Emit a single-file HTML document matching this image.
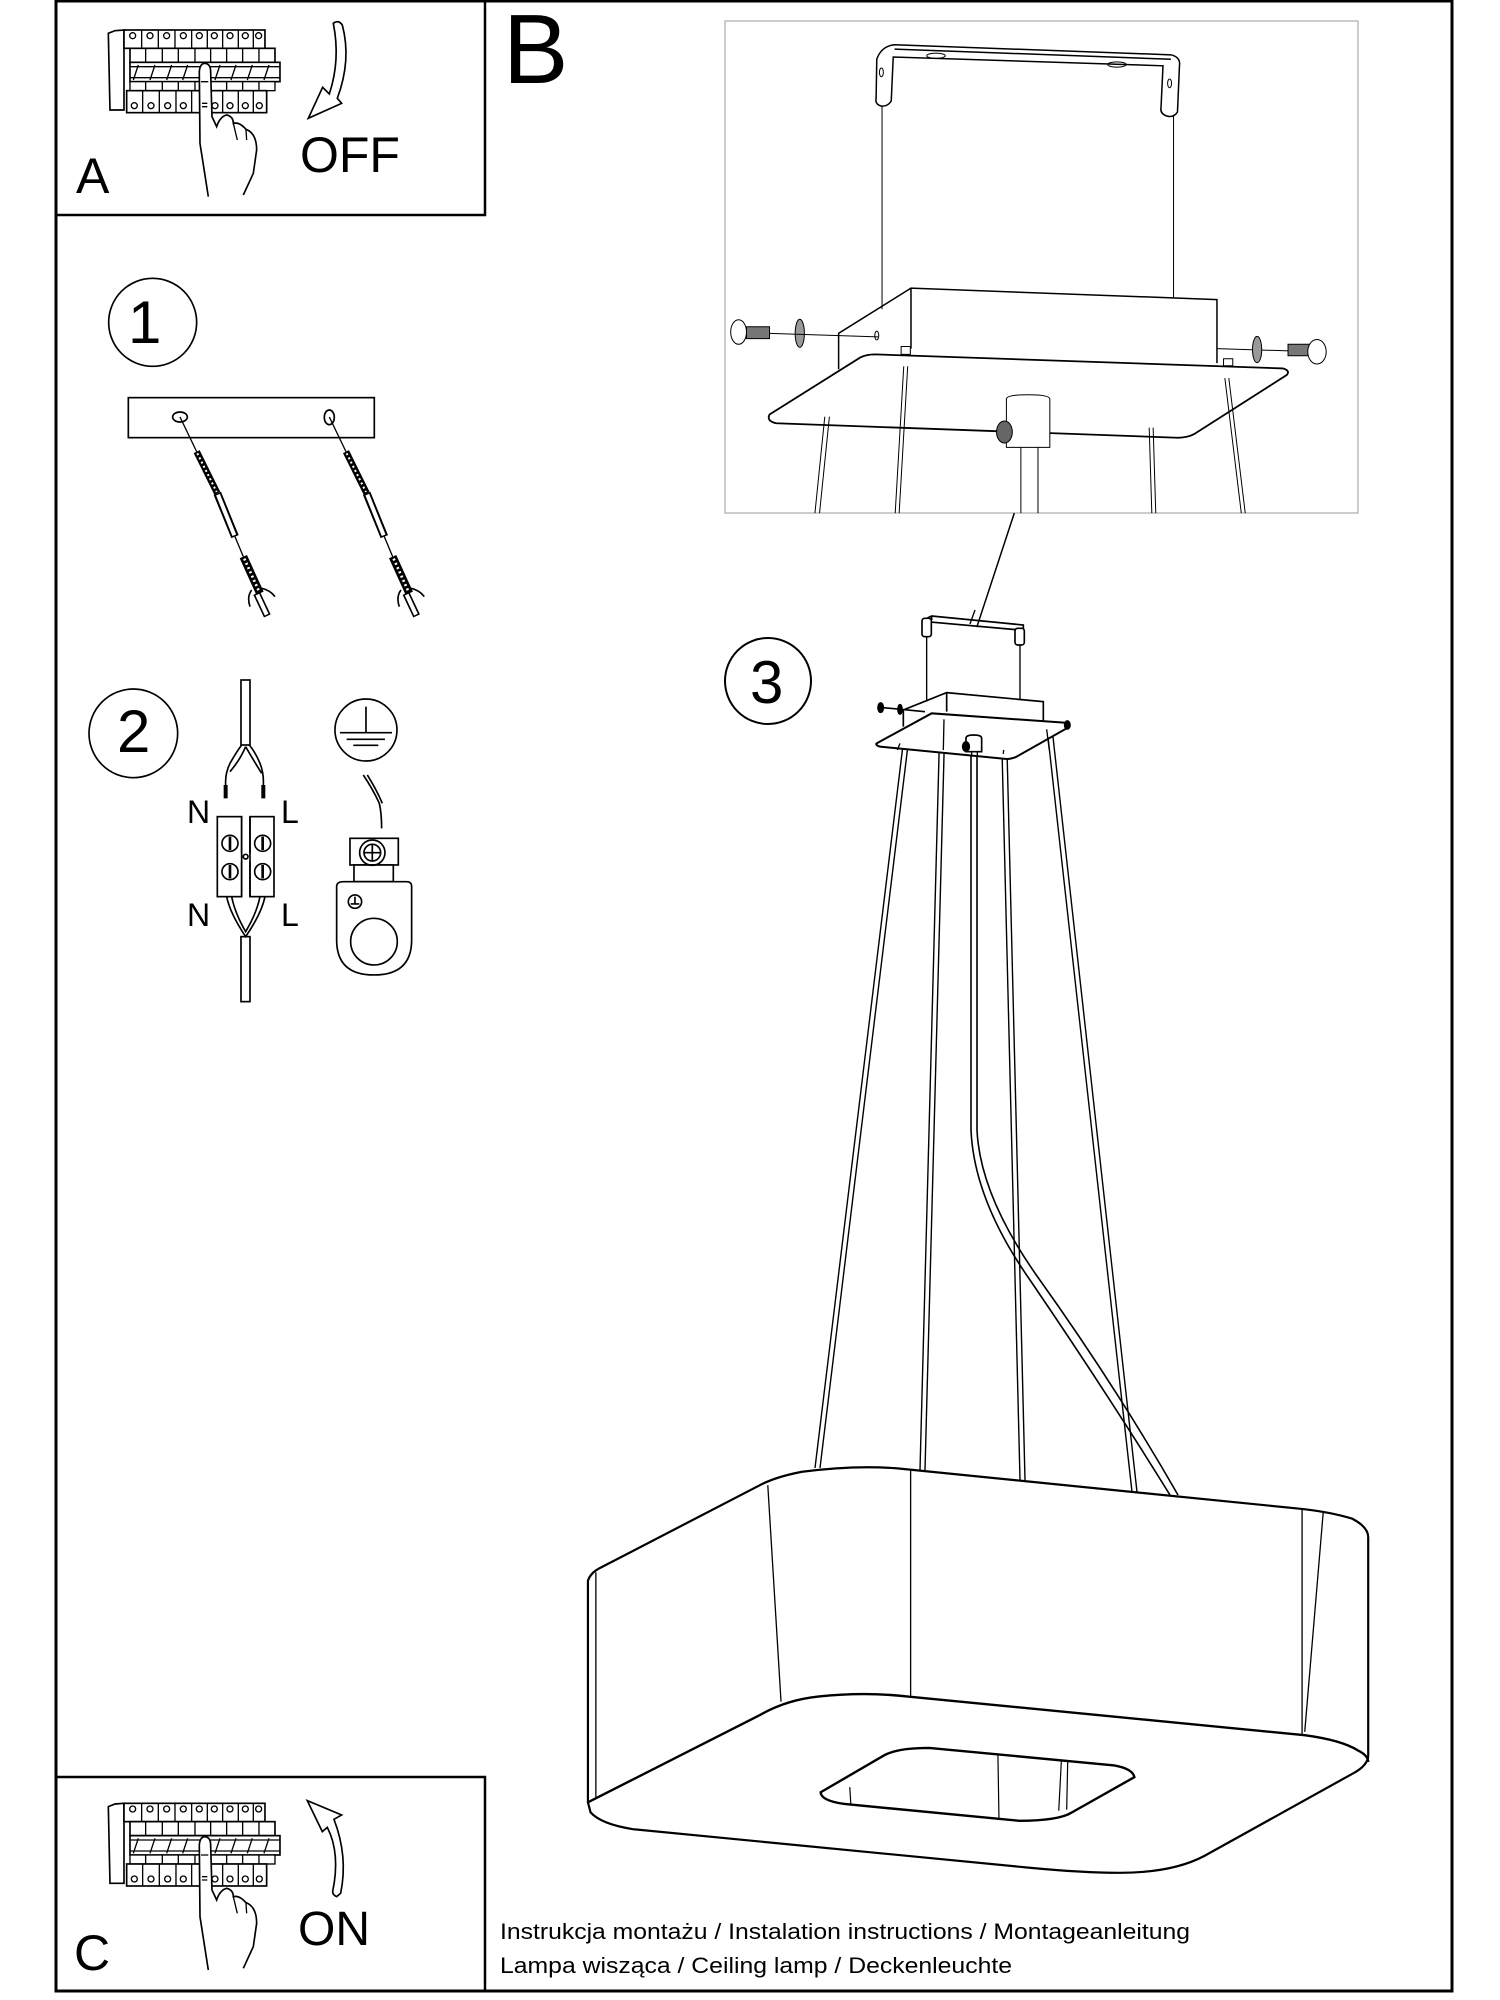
<!DOCTYPE html>
<html><head><meta charset="utf-8"><style>
html,body{margin:0;padding:0;background:#fff}
svg{display:block}
text{font-family:"Liberation Sans",sans-serif;fill:#000}
</style></head><body>
<svg width="1500" height="2000" viewBox="0 0 1500 2000" xmlns="http://www.w3.org/2000/svg">
<defs>
<g id="breaker">
 <path d="M325,100 L345,92 L372,90 L372,330 L330,330 Z" fill="#fff" stroke="#000" stroke-width="5"/>
 <rect x="372" y="90" width="423" height="55" fill="#fff" stroke="#000" stroke-width="5"/>
 <g stroke="#000" stroke-width="4" fill="none">
  <path d="M425,90V145M475,90V145M525,90V145M575,90V145M622,90V145M668,90V145M715,90V145M760,90V145"/>
  <circle cx="398" cy="107" r="9"/><circle cx="450" cy="107" r="9"/><circle cx="500" cy="107" r="9"/><circle cx="550" cy="107" r="9"/><circle cx="598" cy="107" r="9"/><circle cx="643" cy="107" r="9"/><circle cx="690" cy="107" r="9"/><circle cx="736" cy="107" r="9"/><circle cx="776" cy="107" r="9"/>
 </g>
 <rect x="390" y="145" width="435" height="42" fill="#fff" stroke="#000" stroke-width="5"/>
 <path d="M437,145V187M487,145V187M535,145V187M585,145V187M632,145V187M680,145V187M728,145V187M777,145V187" stroke="#000" stroke-width="4"/>
 <rect x="390" y="187" width="450" height="58" fill="#fff" stroke="#000" stroke-width="5"/>
 <path d="M390,200H840M390,233H840M400,240L415,195M450,240L465,195M500,240L515,195M548,240L563,195M645,240L660,195M693,240L708,195M742,240L757,195M792,240L807,195" stroke="#000" stroke-width="4"/>
 <rect x="390" y="245" width="435" height="27" fill="#fff" stroke="#000" stroke-width="4"/>
 <path d="M437,245V272M487,245V272M535,245V272M585,245V272M632,245V272M680,245V272M728,245V272M777,245V272" stroke="#000" stroke-width="4"/>
 <rect x="380" y="272" width="420" height="66" fill="#fff" stroke="#000" stroke-width="5"/>
 <g stroke="#000" stroke-width="4" fill="none">
  <path d="M428,272V338M478,272V338M528,272V338M575,272V338M625,272V338M668,272V338M715,272V338M760,272V338"/>
  <circle cx="403" cy="317" r="9"/><circle cx="453" cy="317" r="9"/><circle cx="503" cy="317" r="9"/><circle cx="550" cy="317" r="9"/><circle cx="645" cy="317" r="9"/><circle cx="690" cy="317" r="9"/><circle cx="736" cy="317" r="9"/><circle cx="778" cy="317" r="9"/>
 </g>
 <path d="M625,590 L600,430 L598,215 Q600,190 615,190 Q632,192 632,215 L636,350 L650,380 Q660,350 680,345 Q700,350 700,370 Q718,365 738,388 Q770,400 770,450 L760,520 L730,585" fill="#fff" stroke="#000" stroke-width="5"/>
 <path d="M603,245H625M606,310H622M606,320H622M700,370 L712,420M738,388 L740,420" stroke="#000" stroke-width="4" fill="none"/>
</g>
</defs>

<rect x="56" y="1" width="1396" height="1990" fill="none" stroke="#000" stroke-width="3"/>
<rect x="56" y="1" width="429" height="214" fill="none" stroke="#000" stroke-width="2.5"/>
<rect x="56" y="1777" width="429" height="214" fill="none" stroke="#000" stroke-width="2.5"/>

<g transform="scale(0.3333)"><use href="#breaker"/>
 <path d="M1000,70 Q1015,58 1027,75 Q1055,180 1012,295 L1025,310 L925,355 L968,262 L988,282 Q1022,180 1000,70 Z" fill="#fff" stroke="#000" stroke-width="5"/></g>
<text x="300" y="172" font-size="50">OFF</text>
<text x="76" y="193" font-size="50">A</text>

<g transform="translate(0,1760) scale(0.3333) translate(0,40)"><use href="#breaker"/></g>
<g transform="translate(0,1760) scale(0.3333)">
 <path d="M1010,410 Q998,405 998,395 Q1022,280 982,202 L967,215 L922,122 L1025,165 L1002,178 Q1045,290 1022,400 Z" fill="#fff" stroke="#000" stroke-width="5"/></g>
<text x="298" y="1945" font-size="48">ON</text>
<text x="74" y="1970" font-size="50">C</text>

<text x="500" y="1939" font-size="22" textLength="690" lengthAdjust="spacingAndGlyphs">Instrukcja montażu / Instalation instructions / Montageanleitung</text>
<text x="500" y="1973" font-size="22" textLength="512" lengthAdjust="spacingAndGlyphs">Lampa wisząca / Ceiling lamp / Deckenleuchte</text>

<text x="503" y="83" font-size="98">B</text>

<g transform="translate(80,260) scale(0.3333)" stroke="#000" fill="none">
 <circle cx="218" cy="187" r="132" stroke-width="5"/>
 <rect x="145" y="413" width="738" height="120" stroke-width="5" fill="#fff"/>
 <ellipse cx="300" cy="471" rx="22" ry="15" stroke-width="5"/>
 <ellipse cx="748" cy="472" rx="15" ry="22" stroke-width="5"/>
 <g id="anc">
  <path d="M300,471 L350,575" stroke-width="4"/>
  <path d="M350,575 L412,700" stroke-width="20"/><path d="M352,580 L410,696" stroke="#fff" stroke-width="6" stroke-dasharray="6 8"/>
  <path d="M412,700 L465,830" stroke-width="24"/><path d="M414,704 L463,826" stroke="#fff" stroke-width="12"/>
  <path d="M465,830 L490,890" stroke-width="4"/>
  <path d="M490,890 L540,1000" stroke-width="24"/><path d="M493,896 L537,994" stroke="#fff" stroke-width="8" stroke-dasharray="6 8"/>
  <path d="M530,1000 L562,1068" stroke-width="22"/><path d="M532,1004 L560,1064" stroke="#fff" stroke-width="12"/>
  <path d="M515,990 Q500,1010 510,1040 M545,985 Q570,990 585,1010" stroke-width="5"/>
 </g>
 <use href="#anc" transform="translate(448,0)"/>
</g>
<text x="128" y="343" font-size="60">1</text>

<g transform="translate(80,680) scale(0.3333)" stroke="#000" fill="none" stroke-width="5">
 <circle cx="160" cy="160" r="133"/>
 <rect x="483" y="0" width="27" height="195"/>
 <path d="M485,195 Q470,215 450,250 Q435,280 437,315 M508,195 Q525,215 540,250 Q552,280 550,315 M497,200 Q480,240 450,275 M497,200 Q520,240 545,280"/>
 <path d="M437,315V355M550,315V355" stroke-width="12"/>
 <rect x="412" y="410" width="73" height="240" fill="#fff"/>
 <rect x="510" y="410" width="72" height="240" fill="#fff"/>
 <path d="M485,410V520M510,410V520M485,545V650M510,545V650"/>
 <circle cx="497" cy="530" r="7"/>
 <circle cx="450" cy="490" r="24"/><circle cx="548" cy="490" r="24"/><circle cx="450" cy="575" r="24"/><circle cx="548" cy="575" r="24"/>
 <path d="M450,470V510M548,470V510M450,555V595M548,555V595" stroke-width="8"/>
 <path d="M440,650 Q450,700 497,770 Q545,700 555,650 M455,650 Q465,700 497,755 Q530,700 540,650"/>
 <rect x="483" y="770" width="27" height="195"/>
 <circle cx="858" cy="150" r="93"/>
 <path d="M858,80V158M780,158H936M800,178H915M820,196H895"/>
 <path d="M850,285 Q880,330 898,370 Q905,400 905,445 M862,285 Q890,330 907,370"/>
 <rect x="810" y="475" width="145" height="80" fill="#fff"/>
 <rect x="822" y="555" width="118" height="50" fill="#fff"/>
 <circle cx="877" cy="518" r="38"/><circle cx="877" cy="518" r="25"/>
 <path d="M877,493V543M852,518H902"/>
 <path d="M770,620 Q770,605 790,605 L980,605 Q995,605 995,620 L995,780 Q995,885 882,885 Q770,885 770,780 Z" fill="#fff"/>
 <circle cx="882" cy="785" r="70"/>
 <circle cx="825" cy="665" r="20"/><path d="M825,650V670M812,672H838"/>
</g>
<text x="117" y="752" font-size="60">2</text>
<text x="187" y="823" font-size="32">N</text>
<text x="281" y="823" font-size="32">L</text>
<text x="187" y="926" font-size="32">N</text>
<text x="281" y="926" font-size="32">L</text>

<rect x="725" y="21" width="633" height="492" fill="none" stroke="#bbb" stroke-width="1.5"/>
<g transform="translate(480,0) scale(0.658,0.4386)" stroke="#000" fill="none">
 <path vector-effect="non-scaling-stroke" stroke-width="1.5" d="M603,135 Q610,105 630,102 L1050,125 Q1065,130 1063,150 L1060,255 Q1055,268 1045,265 Q1033,260 1035,245 L1038,150 L628,130 L625,230 Q620,243 610,242 Q600,238 602,225 Z M630,112 L1050,135"/>
 <ellipse vector-effect="non-scaling-stroke" cx="693" cy="127" rx="14" ry="6"/><ellipse vector-effect="non-scaling-stroke" cx="968" cy="147" rx="14" ry="6"/>
 <ellipse vector-effect="non-scaling-stroke" cx="610" cy="165" rx="3" ry="10"/><ellipse vector-effect="non-scaling-stroke" cx="1048" cy="190" rx="3" ry="10"/>
 <path vector-effect="non-scaling-stroke" stroke-width="1" d="M611,242V705M1054,262V680"/>
 <path vector-effect="non-scaling-stroke" stroke-width="1.5" d="M545,842 V760 L655,657 L1120,683 V828 M655,657 V795"/>
 <ellipse vector-effect="non-scaling-stroke" cx="603" cy="765" rx="3" ry="10"/>
 <rect vector-effect="non-scaling-stroke" x="640" y="790" width="14" height="18"/><rect vector-effect="non-scaling-stroke" x="1130" y="818" width="14" height="16"/>
 <path vector-effect="non-scaling-stroke" stroke-width="1.8" fill="#fff" d="M440,945 L578,815 Q588,808 600,808 L1220,840 Q1232,845 1226,855 L1085,990 Q1075,998 1060,998 L450,965 Q435,960 440,945 Z"/>
 <path vector-effect="non-scaling-stroke" d="M524,950 L509,1170 M531,950 L516,1170 M644,835 L631,1170 M650,835 L637,1170 M1017,975 L1021,1170 M1023,975 L1027,1170 M1132,862 L1157,1170 M1138,862 L1163,1170"/>
 <path vector-effect="non-scaling-stroke" fill="#fff" d="M800,1020 V910 Q800,900 833,900 Q866,900 866,910 V1020 Z"/>
 <ellipse vector-effect="non-scaling-stroke" cx="797" cy="985" rx="12" ry="25" fill="#666"/>
 <path vector-effect="non-scaling-stroke" d="M822,1020V1170M848,1020V1170"/>
 <ellipse vector-effect="non-scaling-stroke" cx="393" cy="757" rx="12" ry="28" fill="#fff"/>
 <rect vector-effect="non-scaling-stroke" x="405" y="745" width="35" height="27" fill="#777"/>
 <ellipse vector-effect="non-scaling-stroke" cx="486" cy="760" rx="7" ry="32" fill="#999"/>
 <path vector-effect="non-scaling-stroke" stroke-width="1" d="M440,760 L605,768 M1120,795 L1230,800"/>
 <ellipse vector-effect="non-scaling-stroke" cx="1181" cy="797" rx="7" ry="30" fill="#999"/>
 <rect vector-effect="non-scaling-stroke" x="1228" y="785" width="37" height="26" fill="#777"/>
 <ellipse vector-effect="non-scaling-stroke" cx="1272" cy="802" rx="14" ry="28" fill="#fff"/>
 <path vector-effect="non-scaling-stroke" stroke-width="1.5" d="M812,1170 L755,1430"/>
</g>

<circle cx="768" cy="681" r="43" fill="none" stroke="#000" stroke-width="2"/>
<text x="750" y="703" font-size="60">3</text>

<g stroke="#000" fill="none" stroke-width="1.4">
 <path d="M903,745 L815,1468 M908,745 L820,1468"/>
 <path d="M940,718 L920,1470 M945,718 L925,1470"/>
 <path d="M1002,750 L1020,1480 M1007,750 L1025,1480"/>
 <path d="M1047,728 L1132,1492 M1052,728 L1137,1492"/>
 <path d="M971,750 L971,1130 Q974,1200 1030,1280 Q1105,1390 1170,1495" stroke-width="1.6"/>
 <path d="M977,750 L977,1130 Q980,1195 1037,1276 Q1115,1385 1178,1495" stroke-width="1.6"/>
</g>

<g transform="translate(860,610) scale(0.3333)" stroke="#000" fill="none" stroke-width="5">
 <path d="M190,30 L215,18 L490,45 L490,95 M215,18 L215,30 M200,35 L480,60"/>
 <rect x="186" y="25" width="28" height="55" rx="8" fill="#fff"/><rect x="465" y="55" width="28" height="50" rx="8" fill="#fff"/>
 <path d="M200,80V275M480,105V270" stroke-width="4"/>
 <path d="M130,350 V300 L260,248 L550,275 V335 M260,248 V305"/>
 <path d="M50,400 L215,310 L612,338 Q630,345 620,355 L470,440 Q455,447 440,447 L60,410 Q45,405 50,400 Z" fill="#fff" stroke-width="6"/>
 <ellipse cx="62" cy="293" rx="8" ry="14" fill="#000"/><path d="M70,293 L195,305"/>
 <ellipse cx="120" cy="298" rx="6" ry="14" fill="#000"/>
 <ellipse cx="622" cy="345" rx="8" ry="12" fill="#000"/>
 <path d="M318,425 V385 Q318,375 341,375 Q365,375 365,385 V425 Z" fill="#fff"/>
 <ellipse cx="318" cy="410" rx="10" ry="14" fill="#000"/>
 <path d="M120,400 L112,420 M252,328 L250,420 M430,432 L431,420 M560,358 L568,420 M335,425V440M352,425V440" stroke-width="4"/>
 <path d="M345,0 L330,42" stroke-width="4"/>
</g>

<g transform="translate(580,1460) scale(0.529,0.3356)" fill="none" stroke="#000">
 <path vector-effect="non-scaling-stroke" stroke-width="2.2" fill="#fff" d="M15,1020 L15,360 Q20,335 40,320 L340,75 Q370,50 420,35 Q520,15 600,25 L1360,145 Q1420,155 1460,175 Q1490,200 1490,230 L1490,880 Q1490,910 1460,935 L1180,1180 Q1120,1230 1020,1230 Q950,1230 850,1215 L100,1100 Q40,1085 20,1050 Z"/>
 <path vector-effect="non-scaling-stroke" stroke-width="2.4" d="M15,1020 L340,760 Q390,715 450,705 Q540,690 620,705 L1370,820 Q1440,835 1470,865 Q1490,880 1490,900"/>
 <path vector-effect="non-scaling-stroke" stroke-width="1.3" d="M355,75 L380,720 M625,28 L625,705 M1365,145 L1365,820 M1405,155 L1370,810 M30,335 L30,1005"/>
 <path vector-effect="non-scaling-stroke" stroke-width="2.4" d="M455,990 L575,880 Q600,858 660,858 L1010,910 Q1045,920 1048,945 L930,1050 Q905,1075 830,1075 L500,1025 Q455,1015 455,990 Z"/>
 <path vector-effect="non-scaling-stroke" stroke-width="1.2" d="M510,975 L512,1028 M790,875 L792,1070 M910,895 L905,1045 M922,895 L920,1042"/>
</g>
</svg>
</body></html>
